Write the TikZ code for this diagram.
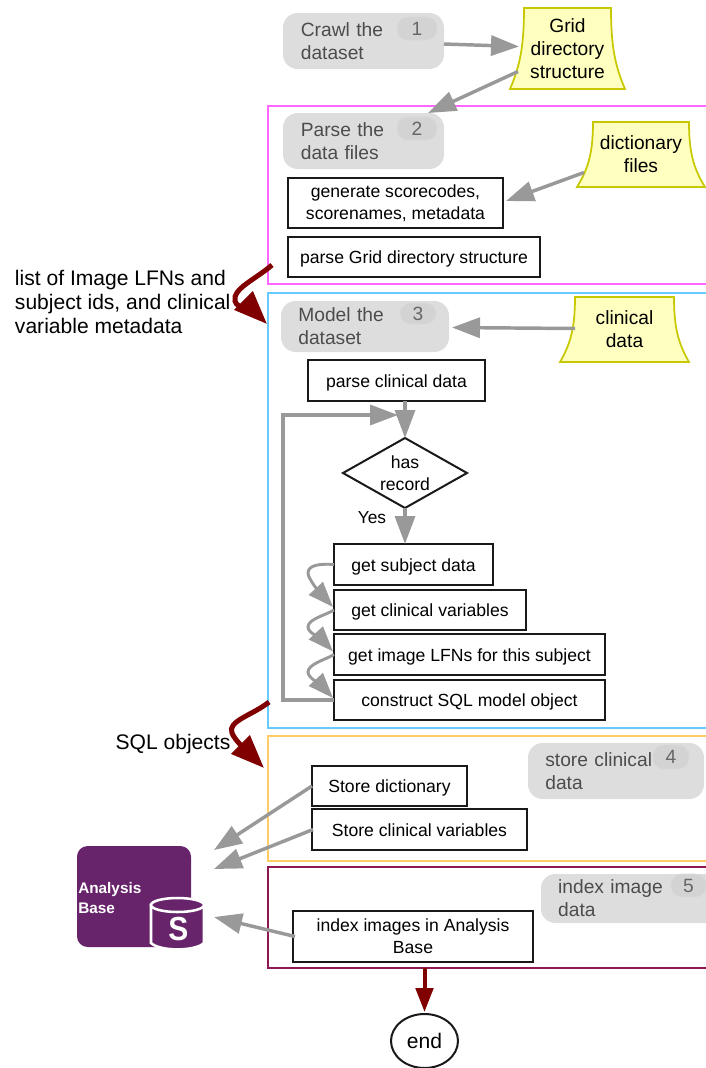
\documentclass[tikz,border=0pt]{standalone}
\usepackage{fontspec}
\setmainfont{Liberation Sans}
\usetikzlibrary{arrows.meta,calc,shapes.geometric,backgrounds}
\definecolor{garr}{HTML}{999999}
\definecolor{darr}{HTML}{800000}
\definecolor{pillc}{HTML}{DDDDDD}
\definecolor{badgec}{HTML}{D3D3D3}
\definecolor{docf}{HTML}{FFFFC0}
\definecolor{docd}{HTML}{C8C800}
\definecolor{abc}{HTML}{68246B}
\definecolor{fpink}{HTML}{FF66FF}
\definecolor{fblue}{HTML}{66CCFF}
\definecolor{forange}{HTML}{FFCC66}
\definecolor{fmaroon}{HTML}{8E1652}
\newcommand\bx[7][]{\node[inner sep=0pt,outer sep=0pt,minimum width={(#5-#3)*0.75pt},minimum height={(#6-#4)*0.75pt},#1] (#2) at ({(#3+#5)/2},{(#4+#6)/2}) {#7};}
\newcommand\docpath[3]{\begin{pgfonlayer}{background}
\draw[docline] ($(#1.north west)+(#2,0)$) -- ($(#1.north east)+(-#2,0)$)
 .. controls +(0,{.45*#3}) and +({-.75*#2},{-.3*#3}) .. (#1.south east)
 -- (#1.south west)
 .. controls +({.75*#2},{-.3*#3}) and +(0,{.45*#3}) .. cycle;
\end{pgfonlayer}}
\tikzset{
 frame/.style={draw=#1,line width=1.25pt},
 pbox/.style={draw=black!90,line width=1.5pt,fill=white,align=center,font=\fontsize{13.2}{16.5}\selectfont},
 one/.style={text height=10pt,text depth=0pt},
 pill/.style={fill=pillc,rounded corners=11pt,text=black!70,align=left,inner xsep=13pt,font=\fontsize{14.4}{17.25}\selectfont},
 badge/.style={fill=badgec,draw=black!15,line width=.5pt,rounded corners=8pt,text=black!60,font=\fontsize{14.4}{17}\selectfont},
 docline/.style={draw=docd,fill=docf,line width=1.3pt},
 doctext/.style={align=center,font=\fontsize{14.4}{17.25}\selectfont},
 biglabel/.style={inner sep=0pt,outer sep=0pt,align=left,font=\fontsize{15.8}{18}\selectfont},
 garrow/.style={draw=garr,line width=2.6pt,-{Triangle[length=21pt,width=15pt,fill=garr]}},
 gcurve/.style={draw=garr,line width=2.2pt,-{Triangle[length=19pt,width=14pt,fill=garr]}},
 rarrow/.style={draw=darr,line width=3.75pt,-{Triangle[length=25pt,width=19pt,fill=darr]}},
}
\begin{document}
\begin{tikzpicture}[x=0.75pt,y=-0.75pt]
\useasboundingbox (0,0) rectangle (706,1068);
\clip (0,0) rectangle (706,1068);
% frames
\bx[frame=fpink]{pinkf}{268}{106}{712}{284}{}
\bx[frame=fblue]{bluef}{268}{293}{712}{728}{}
\bx[frame=forange]{orangef}{268}{736}{712}{861}{}
\bx[frame=fmaroon]{maroonf}{268}{867}{712}{968}{}
% pills and badges
\bx[pill,text width=94pt]{crawl}{283}{13}{444}{69}{Crawl the\\dataset}
\bx[badge]{b1}{397}{17}{437}{40}{1}
\bx[pill,text width=94pt]{parse}{283}{113}{444}{169}{Parse the\\data files}
\bx[badge]{b2}{397}{117}{437}{140}{2}
\bx[pill,text width=100pt]{model}{281}{301}{449}{352}{Model the\\dataset}
\bx[badge]{b3}{400}{303}{436}{324}{3}
\bx[pill,text width=106pt]{storep}{528}{743}{704}{799}{store clinical\\data}
\bx[badge]{b4}{653}{745}{689}{769}{4}
\bx[pill,text width=116pt]{indexp}{541}{874}{730}{923}{index image\\data}
\bx[badge]{b5}{671}{874}{706}{897}{5}
% documents
\bx[doctext]{grid}{510}{8}{625}{89}{Grid\\directory\\structure}
\docpath{grid}{14}{81}
\bx[doctext]{dict}{577}{122}{705}{187}{dictionary\\files}
\docpath{dict}{16}{65}
\bx[doctext]{clin}{560}{297}{689}{362}{clinical\\data}
\docpath{clin}{15}{65}
% process boxes
\bx[pbox]{gen}{288}{178}{503}{228}{generate scorecodes,\\scorenames, metadata}
\bx[pbox,one]{pgrid}{288}{237}{540}{277}{parse Grid directory structure}
\bx[pbox,one]{pclin}{308}{360}{485}{401}{parse clinical data}
\bx[pbox,shape=diamond,aspect=1.77]{rec}{343}{438}{467}{508}{has\\record}
\bx[pbox,one]{sub}{334}{544}{493}{585}{get subject data}
\bx[pbox,one]{cvar}{334}{590}{526}{630}{get clinical variables}
\bx[pbox,one]{lfn}{334}{634}{605}{675}{get image LFNs for this subject}
\bx[pbox,one]{sql}{334}{680}{605}{720}{construct SQL model object}
\bx[pbox,one]{sdict}{312}{766}{467}{806}{Store dictionary}
\bx[pbox,one]{svar}{312}{809}{527}{850}{Store clinical variables}
\bx[pbox]{iimg}{293}{911}{533}{962}{index images in Analysis\\Base}
\bx[pbox,shape=ellipse]{endn}{391}{1014}{458}{1068}{\fontsize{15.8}{18}\selectfont end}
% labels
\node[biglabel,anchor=west] (lab1) at (15,302) {list of Image LFNs and\\subject ids, and clinical\\variable metadata};
\node[biglabel,anchor=center] (lab2) at (173,744) {SQL objects};
\node[inner sep=0pt,font=\fontsize{13}{15}\selectfont] (yes) at (372,518) {Yes};
% Analysis Base
\bx[fill=abc,rounded corners=8pt]{ab}{77}{846}{191}{947}{}
\draw[fill=abc,draw=white,line width=1.9pt] (151,905) -- (151,943) .. controls (160,951.5) and (195,951.5) .. (204,943) -- (204,905) -- cycle;
\draw[draw=white,line width=1.9pt,fill=abc] (177.5,905) ellipse[x radius=26.5,y radius=7];
\node[inner sep=0pt,text=white,font=\fontsize{25}{25}\bfseries\selectfont,xscale=.9] (sglyph) at (178.5,929) {S};
\node[inner sep=0pt,anchor=west,align=left,text=white,font=\fontsize{11.5}{15}\bfseries\selectfont] (abtext) at (78,898) {Analysis\\Base};
% gray connectors
\draw[garrow] ($(crawl.east)+(0,3)$) -- ($(grid.west)+(9,-2)$);
\draw[garrow] ($(grid.west)+(8,23)$) -- ($(parse.north)+(64.5,0)$);
\draw[garrow] ($(dict.west)+(7,18)$) -- ($(gen.east)+(3,-2)$);
\draw[garrow] ($(clin.west)+(15,-1)$) -- ($(model.east)+(3,1)$);
\draw[garrow] (rec.north |- pclin.south) -- (rec.north);
\coordinate (loopc) at (283,415);
\draw[garrow] (sql.west) -| (loopc) -- ($(rec.north)+(-7,-23)$);
\draw[garrow] (rec.south) -- (rec.south |- sub.north);
\coordinate (m1) at (308,573);
\coordinate (m2) at (308,627);
\coordinate (m3) at (308,672);
\draw[gcurve] (sub.west) .. controls +(-14,-1) and +(0,-8) .. (m1) .. controls +(0,6) and +(-12,-13) .. ($(cvar.west)+(-1,-3)$);
\draw[gcurve] (cvar.west) .. controls +(-8,5) and +(0,-8) .. (m2) .. controls +(0,6) and +(-12,-13) .. ($(lfn.west)+(-1,-3)$);
\draw[gcurve] (lfn.west) .. controls +(-8,5) and +(0,-8) .. (m3) .. controls +(0,6) and +(-12,-13) .. ($(sql.west)+(-1,-2)$);
\coordinate (abt1) at (214,850);
\coordinate (abt2) at (214,869);
\coordinate (abt3) at (214,917);
\draw[garrow] (sdict.west) -- (abt1);
\draw[garrow] ($(svar.west)+(1,0)$) -- (abt2);
\draw[garrow] ($(iimg.west)+(2,0)$) -- (abt3);
% dark red connectors
\coordinate (r1) at (235,301);
\coordinate (r2) at (232,733);
\draw[rarrow] ($(pinkf.south west)+(4,-19)$) .. controls +(-16,14) and +(-3,-12) .. (r1) .. controls +(2,8) and +(-14,-14) .. ($(bluef.north west)+(-1,31)$);
\draw[rarrow] ($(bluef.south west)+(1,-26)$) .. controls +(-16,13) and +(-5,-12) .. (r2) .. controls +(3,8) and +(-14,-14) .. ($(orangef.north west)+(-4,32)$);
\draw[draw=darr,line width=3pt,-{Triangle[length=18pt,width=13pt,fill=darr]}] (maroonf.south -| endn.north) -- ($(endn.north)+(0,-2)$);
\end{tikzpicture}
\end{document}
